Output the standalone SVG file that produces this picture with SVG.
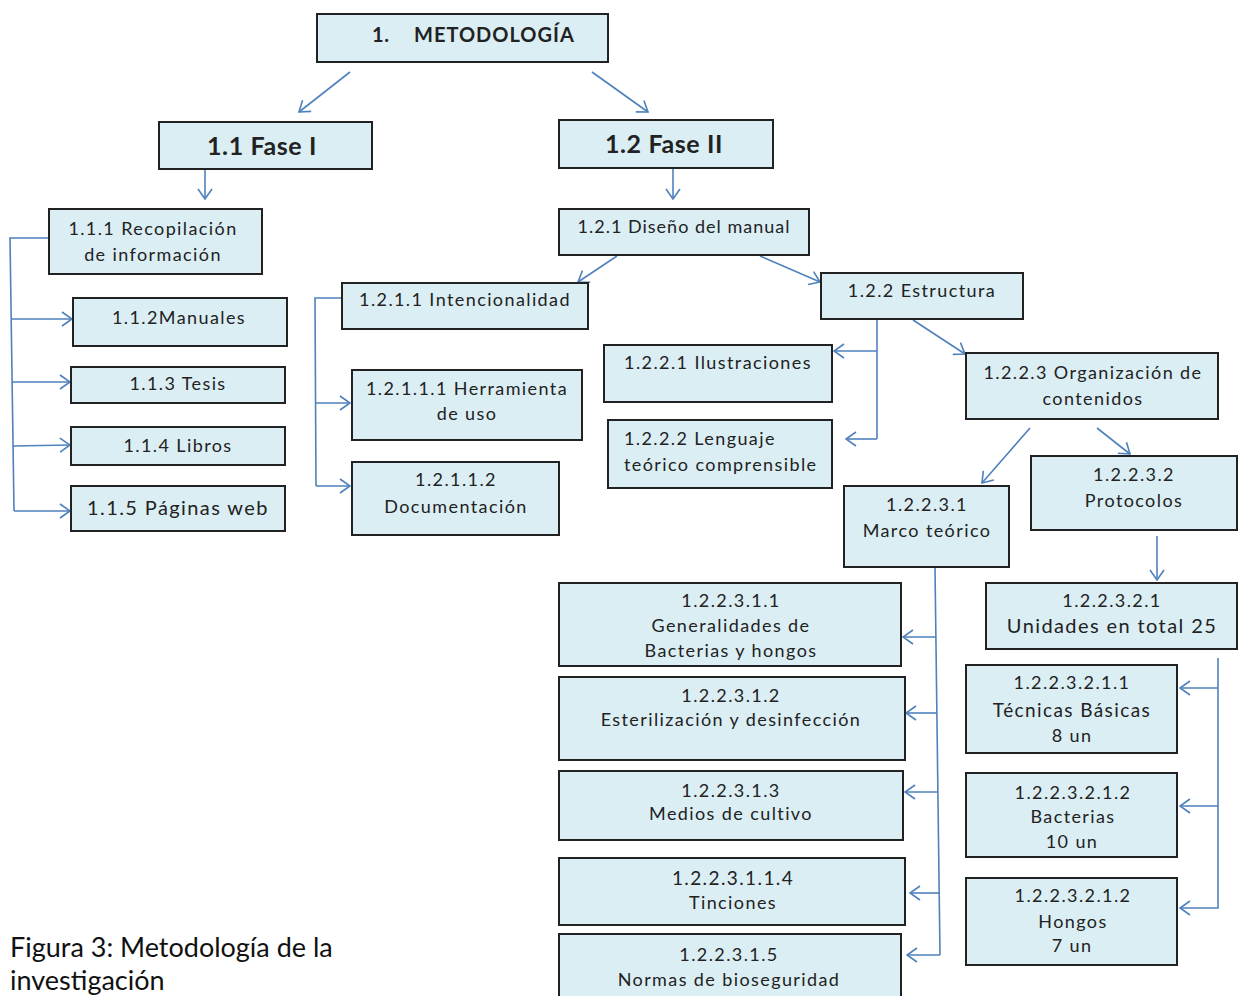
<svg xmlns="http://www.w3.org/2000/svg" width="1240" height="996" viewBox="0 0 1240 996">
<style>
.box{fill:#DBEEF4;stroke:#222;stroke-width:2}
.t{font-family:Lato,"Liberation Sans",sans-serif;font-size:18px;letter-spacing:1.4px;fill:#222;text-anchor:middle}
.s{text-anchor:start}
.b{font-weight:bold;letter-spacing:0.6px}
.c{fill:none;stroke:#4F81BD;stroke-width:1.6}
.cap{font-family:Lato,"Liberation Sans",sans-serif;font-size:27px;fill:#111}
</style>
<defs>
<marker id="ah" viewBox="0 0 12 16" refX="11" refY="8" markerWidth="12" markerHeight="16" markerUnits="userSpaceOnUse" orient="auto">
<path d="M1,1 L11,8 L1,15" fill="none" stroke="#4F81BD" stroke-width="1.6"/>
</marker>
</defs>
<rect width="1240" height="996" fill="#fff"/>
<g id="connectors">
<path class="c" d="M350,72 L299,112" marker-end="url(#ah)"/>
<path class="c" d="M592,72 L648,112" marker-end="url(#ah)"/>
<path class="c" d="M205,170 L205,199" marker-end="url(#ah)"/>
<path class="c" d="M673,169 L673,199" marker-end="url(#ah)"/>
<path class="c" d="M49,238 L10,238 L14,511"/>
<path class="c" d="M12,319 L72,319" marker-end="url(#ah)"/>
<path class="c" d="M12,382 L70,382" marker-end="url(#ah)"/>
<path class="c" d="M13,446 L70,445" marker-end="url(#ah)"/>
<path class="c" d="M14,511 L70,511" marker-end="url(#ah)"/>
<path class="c" d="M617,256 L578,282" marker-end="url(#ah)"/>
<path class="c" d="M760,256 L820,282" marker-end="url(#ah)"/>
<path class="c" d="M342,298 L315,298 L316,486"/>
<path class="c" d="M315,403 L350,403" marker-end="url(#ah)"/>
<path class="c" d="M316,486 L350,486" marker-end="url(#ah)"/>
<path class="c" d="M877,320 L877,439"/>
<path class="c" d="M877,351 L834,351" marker-end="url(#ah)"/>
<path class="c" d="M877,439 L846,439" marker-end="url(#ah)"/>
<path class="c" d="M913,320 L965,354" marker-end="url(#ah)"/>
<path class="c" d="M1030,428 L982,483" marker-end="url(#ah)"/>
<path class="c" d="M1097,428 L1130,454" marker-end="url(#ah)"/>
<path class="c" d="M1157,536 L1157,580" marker-end="url(#ah)"/>
<path class="c" d="M935,568 L940,955"/>
<path class="c" d="M936,637 L903,637" marker-end="url(#ah)"/>
<path class="c" d="M937,713 L906,713" marker-end="url(#ah)"/>
<path class="c" d="M938,792 L905,792" marker-end="url(#ah)"/>
<path class="c" d="M939,893 L910,893" marker-end="url(#ah)"/>
<path class="c" d="M940,955 L907,955" marker-end="url(#ah)"/>
<path class="c" d="M1218,658 L1218,908 L1180,908" marker-end="url(#ah)"/>
<path class="c" d="M1218,688 L1180,688" marker-end="url(#ah)"/>
<path class="c" d="M1218,806 L1180,806" marker-end="url(#ah)"/>
</g>
<g id="n1"><rect class="box" x="317" y="14" width="291" height="48"/><text class="t b s" x="372" y="42" style="font-size:20px">1.</text><text class="t b s" x="414" y="42" style="font-size:20px;letter-spacing:1px">METODOLOGÍA</text></g>
<g id="n11"><rect class="box" x="159" y="122" width="213" height="47"/><text class="t b" x="262" y="155" style="font-size:25px">1.1 Fase I</text></g>
<g id="n12"><rect class="box" x="559" y="120" width="214" height="48"/><text class="t b" x="664" y="153" style="font-size:25px">1.2 Fase II</text></g>
<g id="n111"><rect class="box" x="49" y="209" width="213" height="65"/><text class="t" x="153" y="235">1.1.1 Recopilación</text><text class="t" x="153" y="261">de información</text></g>
<g id="n112"><rect class="box" x="73" y="298" width="214" height="48"/><text class="t" x="179" y="324">1.1.2Manuales</text></g>
<g id="n113"><rect class="box" x="71" y="367" width="214" height="36"/><text class="t" x="178" y="390">1.1.3 Tesis</text></g>
<g id="n114"><rect class="box" x="71" y="427" width="214" height="38"/><text class="t" x="178" y="452">1.1.4 Libros</text></g>
<g id="n115"><rect class="box" x="71" y="486" width="214" height="45"/><text class="t" x="178" y="515" style="font-size:20px">1.1.5 Páginas web</text></g>
<g id="n121"><rect class="box" x="559" y="209" width="250" height="46"/><text class="t" x="684" y="233" style="letter-spacing:1px">1.2.1 Diseño del manual</text></g>
<g id="n1211"><rect class="box" x="342" y="283" width="246" height="46"/><text class="t" x="465" y="306">1.2.1.1 Intencionalidad</text></g>
<g id="n12111"><rect class="box" x="352" y="370" width="230" height="70"/><text class="t" x="467" y="395">1.2.1.1.1 Herramienta</text><text class="t" x="467" y="420">de uso</text></g>
<g id="n12112"><rect class="box" x="352" y="462" width="207" height="73"/><text class="t" x="456" y="486">1.2.1.1.2</text><text class="t" x="456" y="513">Documentación</text></g>
<g id="n122"><rect class="box" x="821" y="273" width="202" height="46"/><text class="t" x="922" y="297">1.2.2 Estructura</text></g>
<g id="n1221"><rect class="box" x="604" y="345" width="228" height="57"/><text class="t" x="718" y="369">1.2.2.1 Ilustraciones</text></g>
<g id="n1222"><rect class="box" x="608" y="420" width="224" height="68"/><text class="t s" x="624" y="445">1.2.2.2 Lenguaje</text><text class="t s" x="624" y="471">teórico comprensible</text></g>
<g id="n1223"><rect class="box" x="966" y="353" width="252" height="66"/><text class="t" x="1093" y="379">1.2.2.3 Organización de</text><text class="t" x="1093" y="405">contenidos</text></g>
<g id="n12231"><rect class="box" x="844" y="486" width="165" height="81"/><text class="t" x="927" y="511">1.2.2.3.1</text><text class="t" x="927" y="537">Marco teórico</text></g>
<g id="n12232"><rect class="box" x="1031" y="456" width="206" height="74"/><text class="t" x="1134" y="481">1.2.2.3.2</text><text class="t" x="1134" y="507">Protocolos</text></g>
<g id="n122311"><rect class="box" x="559" y="583" width="342" height="83"/><text class="t" x="731" y="607">1.2.2.3.1.1</text><text class="t" x="731" y="632">Generalidades de</text><text class="t" x="731" y="657">Bacterias y hongos</text></g>
<g id="n122312"><rect class="box" x="559" y="677" width="346" height="83"/><text class="t" x="731" y="702">1.2.2.3.1.2</text><text class="t" x="731" y="726">Esterilización y desinfección</text></g>
<g id="n122313"><rect class="box" x="559" y="771" width="344" height="69"/><text class="t" x="731" y="797">1.2.2.3.1.3</text><text class="t" x="731" y="820">Medios de cultivo</text></g>
<g id="n1223114"><rect class="box" x="559" y="858" width="346" height="67"/><text class="t" x="733" y="885" style="font-size:19px">1.2.2.3.1.1.4</text><text class="t" x="733" y="909">Tinciones</text></g>
<g id="n122315"><rect class="box" x="559" y="934" width="342" height="70"/><text class="t" x="729" y="961">1.2.2.3.1.5</text><text class="t" x="729" y="986">Normas de bioseguridad</text></g>
<g id="n122321"><rect class="box" x="986" y="583" width="251" height="66"/><text class="t" x="1112" y="607">1.2.2.3.2.1</text><text class="t" x="1112" y="633" style="font-size:20px">Unidades en total 25</text></g>
<g id="n1223211"><rect class="box" x="966" y="665" width="211" height="88"/><text class="t" x="1072" y="689">1.2.2.3.2.1.1</text><text class="t" x="1072" y="717" style="font-size:19px">Técnicas Básicas</text><text class="t" x="1072" y="742">8 un</text></g>
<g id="n1223212a"><rect class="box" x="966" y="773" width="211" height="84"/><text class="t" x="1073" y="799">1.2.2.3.2.1.2</text><text class="t" x="1073" y="823">Bacterias</text><text class="t" x="1072" y="848">10 un</text></g>
<g id="n1223212b"><rect class="box" x="966" y="878" width="211" height="87"/><text class="t" x="1073" y="902">1.2.2.3.2.1.2</text><text class="t" x="1073" y="928">Hongos</text><text class="t" x="1072" y="952">7 un</text></g>
<g id="caption"><text class="cap" x="10" y="957">Figura 3: Metodología de la</text><text class="cap" x="10" y="990">investigación</text></g>
</svg>
